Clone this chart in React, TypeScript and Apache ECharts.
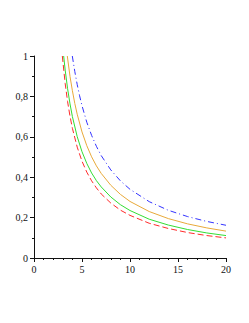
import React, { useEffect, useRef } from "react";
import * as echarts from "echarts";

const redX = [2.95, 3.25, 3.5, 3.75, 4, 4.5, 5, 5.5, 6, 6.5, 7, 8, 9, 10, 12, 14, 16, 18, 20];
const redY = [1.0, 0.863, 0.774, 0.702, 0.642, 0.549, 0.479, 0.425, 0.382, 0.347, 0.317, 0.272, 0.237, 0.211, 0.172, 0.146, 0.126, 0.111, 0.0995];

const greenX = [3.09, 3.25, 3.5, 3.75, 4, 4.5, 5, 5.5, 6, 6.5, 7, 8, 9, 10, 12, 14, 16, 18, 20];
const greenY = [1.0, 0.93, 0.838, 0.763, 0.7, 0.601, 0.526, 0.468, 0.421, 0.383, 0.352, 0.302, 0.264, 0.235, 0.192, 0.163, 0.141, 0.124, 0.111];

const orangeX = [3.47, 3.75, 4, 4.25, 4.5, 5, 5.5, 6, 6.5, 7, 8, 9, 10, 12, 14, 16, 18, 20];
const orangeY = [1.0, 0.899, 0.828, 0.765, 0.712, 0.624, 0.556, 0.501, 0.456, 0.419, 0.36, 0.315, 0.28, 0.23, 0.195, 0.169, 0.149, 0.133];

const blueX = [3.99, 4.25, 4.5, 4.75, 5, 5.5, 6, 6.5, 7, 8, 9, 10, 12, 14, 16, 18, 20];
const blueY = [1.0, 0.923, 0.859, 0.803, 0.754, 0.672, 0.607, 0.553, 0.507, 0.436, 0.382, 0.34, 0.279, 0.236, 0.205, 0.181, 0.162];

const xTicks = [0, 5, 10, 15, 20];
const yTicks = [0, 0.2, 0.4, 0.6, 0.8, 1];

const zip = (xs: number[], ys: number[]) => xs.map((x, i) => [x, ys[i]]);

export default function App() {
  const ref = useRef<HTMLDivElement>(null);
  useEffect(() => {
    if (!ref.current) return;
    const chart = echarts.init(ref.current, null, { renderer: "svg" });
    const font = "Liberation Serif";
    const axisCommon = {
      axisLine: { show: true, onZero: false, lineStyle: { color: "#111", width: 1 } },
      axisTick: { show: true, inside: false, length: 4, lineStyle: { color: "#111" } },
      splitLine: { show: false },
      axisLabel: { color: "#111", fontFamily: font, fontSize: 10 },
    };
    const mk = (name: string, xs: number[], ys: number[], color: string, type: any) => ({
      name,
      type: "line",
      data: zip(xs, ys),
      showSymbol: false,
      smooth: false,
      lineStyle: { color, width: 1, type },
      silent: true,
    });
    chart.setOption({
      animation: false,
      backgroundColor: "#fff",
      grid: { left: 34, right: 23, top: 56, bottom: 65 },
      xAxis: {
        type: "value",
        min: 0,
        max: 20,
        interval: 5,
        ...axisCommon,
        minorTick: { show: true, splitNumber: 5, length: 2, lineStyle: { color: "#111" } },
        axisLabel: { ...axisCommon.axisLabel, margin: 6, customValues: xTicks },
      },
      yAxis: {
        type: "value",
        min: 0,
        max: 1,
        interval: 0.2,
        ...axisCommon,
        minorTick: { show: true, splitNumber: 2, length: 2, lineStyle: { color: "#111" } },
        axisLabel: {
          ...axisCommon.axisLabel,
          margin: 6,
          formatter: (v: number) => {
            const t = yTicks.find((k) => Math.abs(k - v) < 1e-9);
            const val = t === undefined ? v : t;
            if (val === 0) return "0";
            if (val === 1) return "1";
            return String(Math.round(val * 10) / 10).replace(".", ",");
          },
        },
      },
      series: [
        mk("red", redX, redY, "#ff2a2a", [6, 3]),
        mk("green", greenX, greenY, "#33dd33", "solid"),
        mk("orange", orangeX, orangeY, "#e8a93a", "solid"),
        mk("blue", blueX, blueY, "#3333ff", [6, 3, 1, 3]),
      ],
    });
    return () => chart.dispose();
  }, []);
  return (
    <div
      ref={ref}
      style={{ position: "absolute", left: 0, top: 0, width: 249, height: 323 }}
    />
  );
}
